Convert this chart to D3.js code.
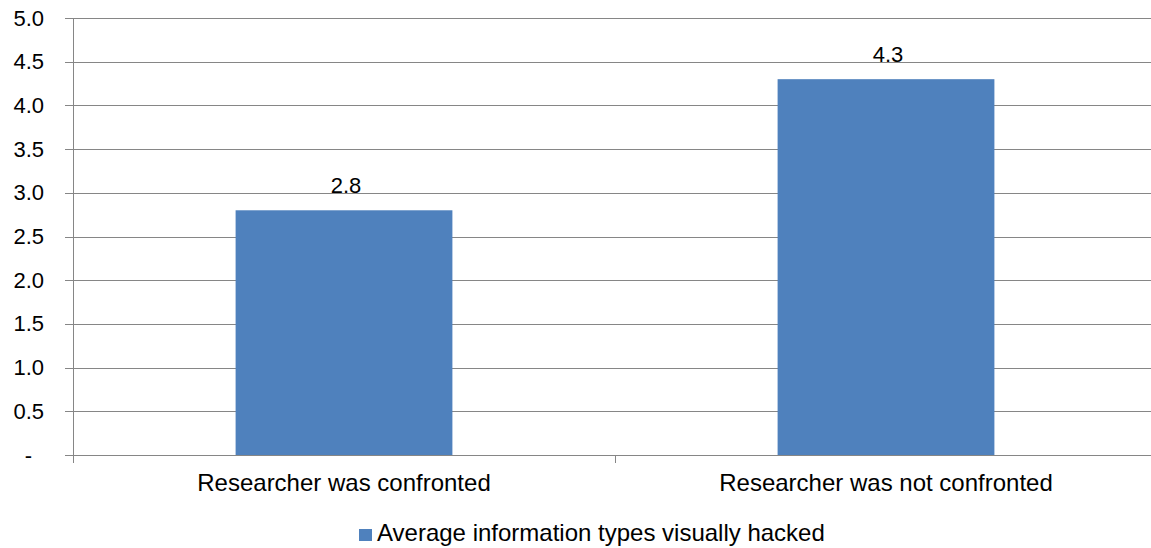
<!DOCTYPE html>
<html>
<head>
<meta charset="utf-8">
<script src="https://cdn.jsdelivr.net/npm/d3@7"></script>
<style>
  html, body { margin: 0; padding: 0; background: #fff; }
  svg { display: block; font-family: "Liberation Sans", Arial, sans-serif; }
</style>
</head>
<body>
<svg id="chart" width="1151" height="548"></svg>
<script>
// Chart data
const categories = ["Researcher was confronted", "Researcher was not confronted"];
const values = [2.8, 4.3];
const seriesName = "Average information types visually hacked";
const yTicks = [0, 0.5, 1.0, 1.5, 2.0, 2.5, 3.0, 3.5, 4.0, 4.5, 5.0];

const svg = d3.select("#chart");
const plotLeft = 73, plotRight = 1157, plotTop = 18, plotBottom = 455;

const x = d3.scaleBand().domain(categories).range([plotLeft, plotRight]).paddingInner(0.6).paddingOuter(0.3);
const y = d3.scaleLinear().domain([0, 5]).range([plotBottom, plotTop]);
const gridColor = "#868686";
const numSize = 22, textSize = 24;

// Horizontal gridlines
svg.append("g").selectAll("line").data(yTicks).join("line")
  .attr("x1", plotLeft - 8).attr("x2", plotRight)
  .attr("y1", d => Math.round(y(d)) + 0.5).attr("y2", d => Math.round(y(d)) + 0.5)
  .attr("stroke", gridColor).attr("stroke-width", 1);

// Y axis line
svg.append("line")
  .attr("x1", plotLeft + 0.5).attr("x2", plotLeft + 0.5)
  .attr("y1", plotTop).attr("y2", plotBottom + 8)
  .attr("stroke", gridColor);

// Category separator ticks
const step = x.step();
[plotLeft, plotLeft + step, plotLeft + 2 * step].forEach(px => {
  svg.append("line")
    .attr("x1", Math.round(px) + 0.5).attr("x2", Math.round(px) + 0.5)
    .attr("y1", plotBottom).attr("y2", plotBottom + 8)
    .attr("stroke", gridColor);
});

// Y tick labels
svg.append("g").selectAll("text").data(yTicks).join("text")
  .attr("x", d => d === 0 ? 32 : 44)
  .attr("y", d => y(d) + 7.5)
  .attr("text-anchor", "end")
  .attr("font-size", numSize)
  .attr("fill", "#000")
  .text(d => d === 0 ? "-" : d.toFixed(1));

// Bars
svg.append("g").selectAll("rect").data(values).join("rect")
  .attr("x", (d, i) => x(categories[i]))
  .attr("width", x.bandwidth())
  .attr("y", d => y(d))
  .attr("height", d => y(0) - y(d))
  .attr("fill", "#4F81BD");

// Value labels
svg.append("g").selectAll("text").data(values).join("text")
  .attr("x", (d, i) => x(categories[i]) + x.bandwidth() / 2 + 2)
  .attr("y", d => y(d) - 17)
  .attr("text-anchor", "middle")
  .attr("font-size", numSize)
  .attr("fill", "#000")
  .text(d => d.toFixed(1));

// Category labels
svg.append("g").selectAll("text").data(categories).join("text")
  .attr("x", d => x(d) + x.bandwidth() / 2)
  .attr("y", 491)
  .attr("text-anchor", "middle")
  .attr("font-size", textSize)
  .attr("fill", "#000")
  .text(d => d);

// Legend
const legend = svg.append("g");
legend.append("rect").attr("x", 359).attr("y", 529).attr("width", 13).attr("height", 12).attr("fill", "#4F81BD");
legend.append("text").attr("x", 377).attr("y", 541).attr("font-size", textSize).attr("fill", "#000").text(seriesName);
</script>
</body>
</html>
